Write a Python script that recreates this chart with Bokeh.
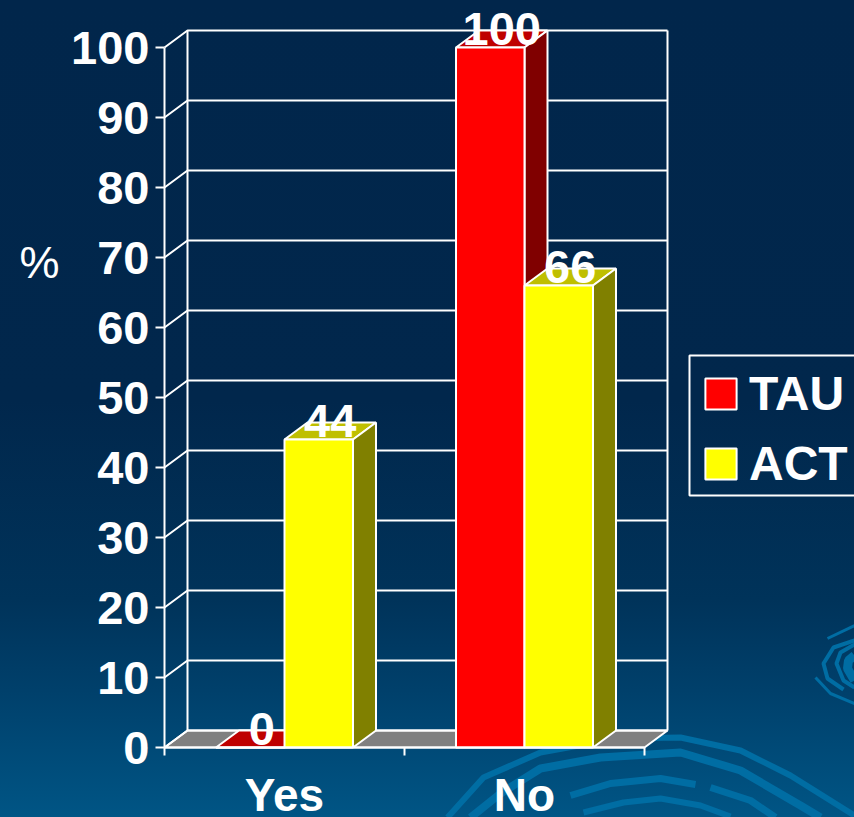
from bokeh.plotting import figure
from bokeh.embed import file_html
from bokeh.resources import INLINE
from bokeh.core.properties import value
from bokeh.models import FixedTicker, Legend, LegendItem

# ---- data ----
categories = ["Yes", "No"]
tau = [0, 100]
act = [44, 66]
tau_labels = ["0", "100"]
act_labels = ["44", "66"]
y_ticks = list(range(0, 101, 10))
legend_names = ["TAU", "ACT"]

# ---- geometry of the pseudo-3D chart (value axis: 7 px per %, category: 240 px) ----
PX_X, PX_Y = 240.0, 7.0
X0, Y0 = 164.0, 747.0            # window position of the chart origin
DX, DY = 23 / PX_X, 17 / PX_Y    # depth of the box in data units
BAR = 68.5 / PX_X

def X(px):
    return (px - X0) / PX_X

def Y(py):
    return (Y0 - py) / PX_Y

FONT = "Liberation Sans"
WHITE = "#ffffff"
LW = 2

p = figure(width=846, height=809, output_backend="svg", toolbar_location=None,
           x_range=(X(8), X(854)), y_range=(Y(817), Y(8)),
           min_border=0, min_border_left=0, min_border_right=0, min_border_top=0, min_border_bottom=0,
           background_fill_alpha=0, border_fill_alpha=0, outline_line_color=None)
p.grid.visible = False

# ---- background swirls (decoration, window pixels) ----
swirls = [
    ([(447,817),(483,777),(540,752),(617,738),(680,737),(740,750),(790,775),(854,815)], 6),
    ([(470,817),(500,793),(540,768),(600,757),(680,752),(740,770),(800,805),(820,817)], 8),
    ([(570,795),(610,783),(660,778),(695,784)], 7),
    ([(710,787),(750,800),(775,817)], 7),
    ([(583,812),(623,802),(660,798),(700,805),(730,816)], 6),
    ([(827,638),(854,625)], 3),
    ([(854,640),(833,647),(823,663),(827,678),(843,689)], 4),
    ([(854,644),(840,652),(836,663),(843,680),(854,687)], 4),
    ([(815,677),(830,693),(854,703)], 3),
    ([(854,655),(848,660),(847,668),(854,680)], 9),
]
for pts, w in swirls:
    p.line([X(a) for a, _ in pts], [Y(b) for _, b in pts], line_color="#006da3", line_width=w)

# ---- floor ----
p.patch([0, DX, 2 + DX, 2], [0, DY, DY, 0], fill_color="#808080", line_color=WHITE, line_width=LW)

# ---- walls and gridlines ----
grid_xs, grid_ys = [], []
for t in y_ticks:
    grid_xs.append([0, DX, 2 + DX])
    grid_ys.append([t, t + DY, t + DY])
p.multi_line(grid_xs, grid_ys, line_color=WHITE, line_width=LW)
p.multi_line([[DX, DX], [2 + DX, 2 + DX]], [[DY, 100 + DY], [DY, 100 + DY]], line_color=WHITE, line_width=LW)

# ---- bars ----
def draw_series(vals, offset, front, top, side, groups):
    rends = []
    for i in groups:
        x0 = i + 0.5 + offset - BAR / 2
        x1 = x0 + BAR
        v = vals[i]
        p.patch([x0, x0 + DX, x1 + DX, x1], [v, v + DY, v + DY, v],
                fill_color=top, line_color=WHITE, line_width=LW)
        p.patch([x1, x1 + DX, x1 + DX, x1], [0, DY, v + DY, v],
                fill_color=side, line_color=WHITE, line_width=LW)
        rends.append(p.quad(left=[x0], right=[x1], bottom=[0], top=[v],
                            fill_color=front, line_color=WHITE, line_width=LW))
    return rends

OFF = BAR / 2
r_tau = draw_series(tau, -OFF, "#ff0000", "#bf0000", "#800000", [0])
r_act = draw_series(act, OFF, "#ffff00", "#bfbf00", "#808000", [0])
r_tau += draw_series(tau, -OFF, "#ff0000", "#bf0000", "#800000", [1])
r_act += draw_series(act, OFF, "#ffff00", "#bfbf00", "#808000", [1])

# ---- data labels ----
lab_x = [i + 0.5 - OFF + DX / 2 for i in range(2)] + [i + 0.5 + OFF + DX / 2 for i in range(2)]
p.text(lab_x, tau + act, text=tau_labels + act_labels, text_color=WHITE,
       text_font=value(FONT), text_font_style="bold", text_font_size="47px",
       text_align="center", text_baseline="alphabetic", y_offset=-19)

# ---- axes on the front edges ----
ya = p.yaxis[0]
ya.fixed_location = 0
ya.bounds = (0, 100)
ya.ticker = FixedTicker(ticks=y_ticks)
ya.axis_line_color = WHITE
ya.axis_line_width = LW
ya.major_tick_line_color = WHITE
ya.major_tick_line_width = LW
ya.major_tick_out = 9
ya.major_tick_in = 0
ya.minor_tick_line_color = None
ya.major_label_standoff = 6
ya.major_label_text_color = WHITE
ya.major_label_text_font = FONT
ya.major_label_text_font_style = "bold"
ya.major_label_text_font_size = "47px"

xa = p.xaxis[0]
xa.fixed_location = 0
xa.bounds = (0, 2)
xa.ticker = FixedTicker(ticks=[0.5, 1.5], minor_ticks=[0, 1, 2])
xa.major_label_overrides = {0.5: categories[0], 1.5: categories[1]}
xa.axis_line_color = WHITE
xa.axis_line_width = LW
xa.major_tick_line_color = None
xa.minor_tick_line_color = WHITE
xa.minor_tick_line_width = LW
xa.minor_tick_out = 8
xa.minor_tick_in = 0
xa.major_tick_out = 0
xa.major_tick_in = 0
xa.major_label_standoff = 13
xa.major_label_text_color = WHITE
xa.major_label_text_font = FONT
xa.major_label_text_font_style = "bold"
xa.major_label_text_font_size = "46px"

# ---- "%" axis title ----
p.text([X(39)], [Y(262)], text=["%"], text_color=WHITE, text_font=value(FONT),
       text_font_size="45px", text_align="center", text_baseline="middle")

# ---- legend ----
p.quad(left=[X(689)], right=[X(900)], bottom=[Y(495)], top=[Y(355)],
       fill_alpha=0, line_color=WHITE, line_width=LW)
legend = Legend(items=[LegendItem(label=legend_names[0], renderers=[r_tau[0]]),
                       LegendItem(label=legend_names[1], renderers=[r_act[0]])],
                location=(693, 326), orientation="vertical",
                background_fill_alpha=0, border_line_color=None,
                glyph_width=39, glyph_height=39, label_standoff=9,
                label_text_color=WHITE, label_text_font=FONT, label_text_font_style="bold",
                label_text_font_size="48px", spacing=15, padding=12, margin=0)
p.add_layout(legend, "center")

html = file_html(p, INLINE)
css = ("<style>html{height:100%;overflow:hidden;"
       "background:linear-gradient(180deg,#01264b 0px,#01274c 400px,#00335a 600px,#00406b 690px,#005585 817px) no-repeat;}"
       "body{margin:8px 0 0 8px;background:transparent;}</style>")
html = html.replace("</head>", css + "</head>", 1)
open("out.html", "w").write(html)
